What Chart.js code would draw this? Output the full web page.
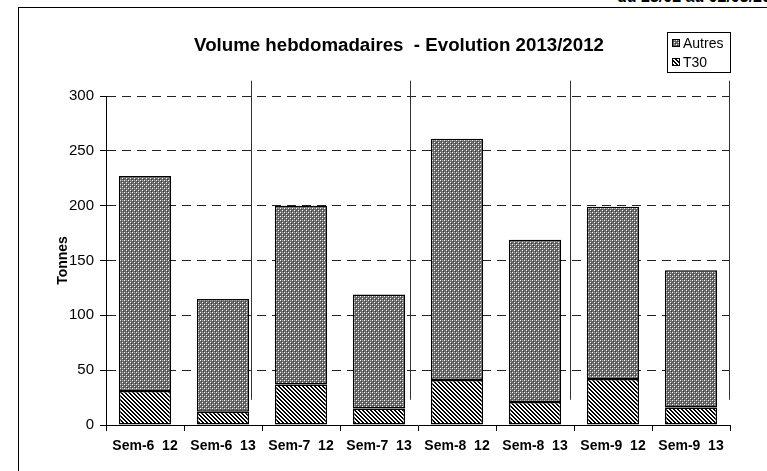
<!DOCTYPE html>
<html>
<head>
<meta charset="utf-8">
<script src="https://cdn.jsdelivr.net/npm/chart.js@4.4.1/dist/chart.umd.min.js"></script>
<style>
  html, body { margin: 0; padding: 0; background: #fff; overflow: hidden; }
  body { width: 767px; height: 471px; position: relative; font-family: 'Liberation Sans', Arial, sans-serif; }
  .frame { position: absolute; left: 18px; top: 7px; width: 820px; height: 520px; border: 1.5px solid #000; }
  .header { position: absolute; left: 617px; top: -12px; font-weight: bold; font-size: 16px; white-space: nowrap; }
  #wrap { position: absolute; left: 0; top: 0; width: 767px; height: 471px; }
</style>
</head>
<body>
<div class="header">du 23/02 au 02/03/2013</div>
<div class="frame"></div>
<div id="wrap"><canvas id="volumeChart" width="767" height="471"></canvas></div>
<script>
// Data
const weeks = ['Sem-6  12', 'Sem-6  13', 'Sem-7  12', 'Sem-7  13', 'Sem-8  12', 'Sem-8  13', 'Sem-9  12', 'Sem-9  13'];
const t30 = [31, 12, 37, 15, 41, 21, 42, 16];
const autres = [196, 103, 163, 104, 220, 148, 157, 125];
const yTicks = [0, 50, 100, 150, 200, 250, 300];
// vertical separators (category units) and their extent (Tonnes)
const separators = [1.36, 3.40, 5.45, 7.49];
const separatorSpan = [23, 314];

const titleText = 'Volume hebdomadaires  - Evolution 2013/2012';
const fontFamily = "'Liberation Sans', Arial, sans-serif";

// fill patterns
function makePattern(draw) {
  const c = document.createElement('canvas');
  c.width = 4;
  c.height = 4;
  const ctx = c.getContext('2d');
  draw(ctx);
  return ctx.createPattern(c, 'repeat');
}

const ctxMain = document.getElementById('volumeChart').getContext('2d');

const dotPattern = makePattern(function (ctx) {
  ctx.fillStyle = '#6a6a6a';
  ctx.fillRect(0, 0, 4, 4);
  ctx.fillStyle = '#ffffff';
  ctx.fillRect(0, 0, 1, 1);
  ctx.fillRect(2, 2, 1, 1);
  ctx.fillStyle = '#a8a8a8';
  ctx.fillRect(2, 0, 1, 1);
  ctx.fillStyle = '#3c3c3c';
  ctx.fillRect(1, 1, 1, 1);
  ctx.fillRect(3, 3, 1, 1);
});

const hatchPattern = makePattern(function (ctx) {
  ctx.fillStyle = '#ffffff';
  ctx.fillRect(0, 0, 4, 4);
  ctx.fillStyle = '#000000';
  for (let y = 0; y < 4; y++) {
    for (let x = 0; x < 4; x++) {
      const d = ((x - y) % 4 + 4) % 4;
      if (d === 0 || d === 1) ctx.fillRect(x, y, 1, 1);
    }
  }
});

// title, legend and separators drawn by hand
const decorPlugin = {
  id: 'decor',
  beforeDatasetsDraw(chart) {
    const ctx = chart.ctx;
    const x = chart.scales.x, y = chart.scales.y;
    ctx.save();
    ctx.strokeStyle = '#333';
    ctx.lineWidth = 1;
    separators.forEach(function (s) {
      const px = Math.round(x.getPixelForValue(s)) + 0.5;
      ctx.beginPath();
      ctx.moveTo(px, y.getPixelForValue(separatorSpan[1]));
      ctx.lineTo(px, y.getPixelForValue(separatorSpan[0]));
      ctx.stroke();
    });
    ctx.restore();
  },
  afterDraw(chart) {
    const ctx = chart.ctx;
    ctx.save();
    // title
    ctx.fillStyle = '#000';
    ctx.font = 'bold 18.7px ' + fontFamily;
    ctx.textAlign = 'center';
    ctx.textBaseline = 'middle';
    ctx.fillText(titleText, 399, 46);

    // legend
    ctx.strokeStyle = '#000';
    ctx.lineWidth = 1;
    ctx.strokeRect(667.5, 32.5, 63, 40);
    const items = [
      { label: chart.data.datasets[1].label, fill: chart.data.datasets[1].backgroundColor, cy: 43 },
      { label: chart.data.datasets[0].label, fill: chart.data.datasets[0].backgroundColor, cy: 62 }
    ];
    ctx.font = '14px ' + fontFamily;
    ctx.textAlign = 'left';
    items.forEach(function (it) {
      ctx.fillStyle = it.fill;
      ctx.fillRect(672, it.cy - 4, 8, 8);
      ctx.strokeRect(672.5, it.cy - 3.5, 7, 7);
      ctx.fillStyle = '#000';
      ctx.fillText(it.label, 683, it.cy + 1);
    });
    ctx.restore();
  }
};

const volumeChart = new Chart(ctxMain, {
  type: 'bar',
  data: {
    labels: weeks,
    datasets: [
      {
        label: 'T30',
        data: t30,
        backgroundColor: hatchPattern,
        borderColor: '#000',
        borderWidth: 1.5,
        borderSkipped: false
      },
      {
        label: 'Autres',
        data: autres,
        backgroundColor: dotPattern,
        borderColor: '#000',
        borderWidth: 1.5,
        borderSkipped: false
      }
    ]
  },
  options: {
    responsive: false,
    animation: false,
    devicePixelRatio: 1,
    layout: {
      padding: { top: 96, right: 37, bottom: 0, left: 51 }
    },
    datasets: {
      bar: {
        categoryPercentage: 1,
        barPercentage: 0.67
      }
    },
    plugins: {
      legend: { display: false },
      title: { display: false },
      tooltip: { enabled: false }
    },
    scales: {
      x: {
        stacked: true,
        afterFit: function (scale) { scale.height = 46; },
        grid: {
          display: true,
          offset: true,
          drawOnChartArea: false,
          drawTicks: true,
          tickLength: 6,
          color: '#000'
        },
        border: { display: true, color: '#000', width: 1 },
        ticks: {
          color: '#000',
          padding: 7,
          maxRotation: 0,
          autoSkip: false,
          font: { family: fontFamily, size: 14, weight: 'bold' }
        }
      },
      y: {
        stacked: true,
        min: 0,
        max: 300,
        afterFit: function (scale) { scale.width = 55; },
        afterBuildTicks: function (scale) {
          scale.ticks = yTicks.map(function (v) { return { value: v }; });
        },
        title: {
          display: true,
          text: 'Tonnes',
          color: '#000',
          font: { family: fontFamily, size: 14, weight: 'bold' }
        },
        grid: {
          color: '#222',
          lineWidth: 1,
          drawTicks: true,
          tickLength: 6,
          tickColor: '#000'
        },
        border: { display: true, color: '#000', width: 1, dash: [9, 6] },
        ticks: {
          color: '#000',
          padding: 6,
          font: { family: fontFamily, size: 15 }
        }
      }
    }
  },
  plugins: [decorPlugin]
});
</script>
</body>
</html>
